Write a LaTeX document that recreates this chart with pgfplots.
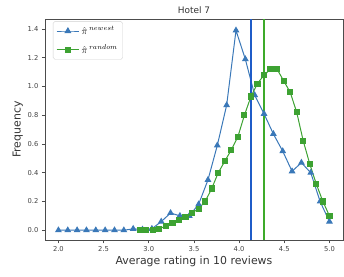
\documentclass[border=0pt]{standalone}
\usepackage{pgfplots}
\pgfplotsset{compat=1.18}
\usepackage{fontspec}
\setmainfont{DejaVu Sans}
\definecolor{tblue}{HTML}{3A78B8}
\definecolor{tgreen}{HTML}{3DA232}
\definecolor{vblue}{HTML}{1F5CC8}
\definecolor{vgreen}{HTML}{3DAA2A}
\begin{document}
\begin{tikzpicture}
\begin{axis}[
  scale only axis, width=299bp, height=222bp,
  xmin=1.85, xmax=5.15, ymin=-0.07, ymax=1.47,
  xtick={2,2.5,3,3.5,4,4.5,5},
  ytick={0,0.2,0.4,0.6,0.8,1.0,1.2,1.4},
  /pgf/number format/assume math mode=true,
  /pgf/number format/.cd, fixed, fixed zerofill, precision=1, /pgfplots/.cd,
  tick label style={font=\fontsize{6.8}{7}\selectfont, text=black!75},
  tick align=outside, tick pos=left, major tick length=3bp,
  every tick/.style={black!70, line width=0.6bp},
  axis line style={black!70, line width=0.7bp},
  title={Hotel 7},
  title style={font=\fontsize{9}{10}\selectfont, yshift=-4bp, text=black!80},
  xlabel={Average rating in 10 reviews},
  ylabel={Frequency},
  label style={font=\fontsize{11}{12}\selectfont, text=black!80},
  xlabel style={yshift=3bp},
  ylabel style={yshift=-2bp},
  legend style={at={(0.027,0.99)}, anchor=north west, draw=black!18, rounded corners=2pt,
    font=\fontsize{10}{11}\selectfont, inner xsep=3pt, inner ysep=3pt, row sep=5pt},
  legend cell align=left,
  legend image code/.code={\draw[#1, mark repeat=2, mark phase=2] plot coordinates {(0cm,0cm) (0.4cm,0cm) (0.8cm,0cm)};},
]
\addplot[tblue, line width=1bp, mark=triangle*, mark size=3bp, mark options={solid}] coordinates {
(2.0000,0) (2.1034,0) (2.2069,0) (2.3103,0) (2.4138,0) (2.5172,0) (2.6207,0) (2.7241,0)
(2.8276,0.01) (2.9310,0.005) (3.0345,0.01) (3.1379,0.06) (3.2414,0.12) (3.3448,0.10)
(3.4483,0.10) (3.5517,0.18) (3.6552,0.35) (3.7586,0.59) (3.8621,0.87) (3.9655,1.39)
(4.0690,1.19) (4.1724,0.94) (4.2759,0.81) (4.3793,0.67) (4.4828,0.55) (4.5862,0.41)
(4.6897,0.47) (4.7931,0.40) (4.8966,0.20) (5.0000,0.06)
};
\addlegendentry{$\hat{\pi}^{\,newest}$}
\addplot[tgreen, line width=1bp, mark=square*, mark size=2.6bp, mark options={solid}] coordinates {
(2.9000,0.00) (2.9724,0.00) (3.0448,0.00) (3.1172,0.01) (3.1897,0.03) (3.2621,0.05)
(3.3345,0.07) (3.4069,0.09) (3.4793,0.12) (3.5517,0.15) (3.6241,0.20) (3.6966,0.29)
(3.7690,0.40) (3.8414,0.48) (3.9138,0.56) (3.9862,0.65) (4.0586,0.80) (4.1310,0.93)
(4.2034,1.02) (4.2759,1.08) (4.3483,1.12) (4.4207,1.12) (4.4931,1.04) (4.5655,0.96)
(4.6379,0.82) (4.7103,0.62) (4.7828,0.46) (4.8552,0.32) (4.9276,0.20) (5.0000,0.10)
};
\addlegendentry{$\hat{\pi}^{\,random}$}
\addplot[draw=vblue, line width=1.4bp, forget plot] coordinates {(4.133,-0.07) (4.133,1.47)};
\addplot[draw=vgreen, line width=1.7bp, forget plot] coordinates {(4.272,-0.07) (4.272,1.47)};
\end{axis}
\pgfresetboundingbox
\path ([xshift=-45bp,yshift=-36bp]current axis.south west) rectangle ([xshift=1bp,yshift=19bp]current axis.north east);
\end{tikzpicture}
\end{document}
